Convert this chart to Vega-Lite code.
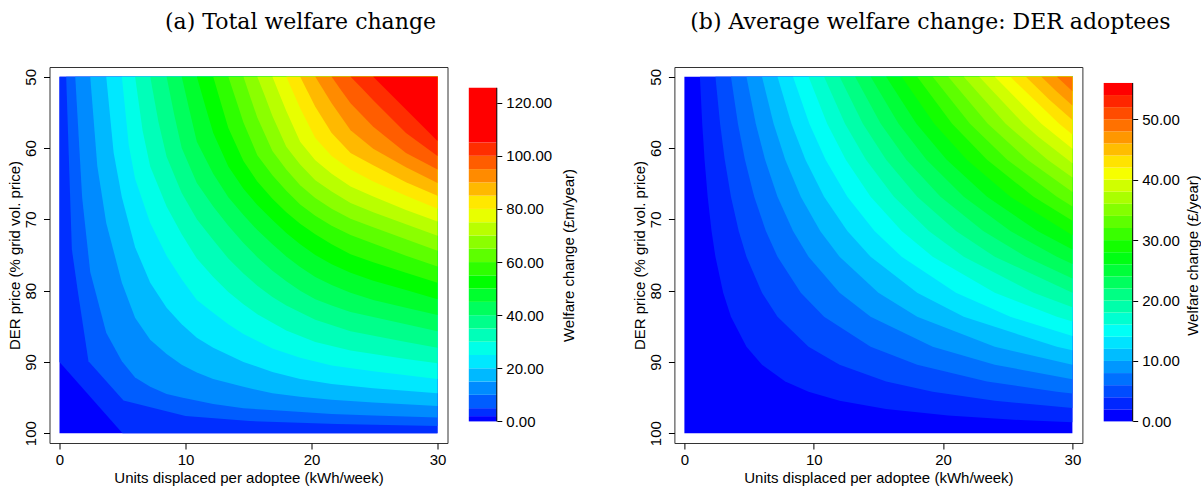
{
"$schema":"https://vega.github.io/schema/vega-lite/v6.json",
"padding":{"left":6.5,"top":10,"right":0,"bottom":0},
"config":{"font":"Liberation Sans","view":{"stroke":null},
"axis":{"labelFont":"Liberation Sans","labelFontSize":15,"labelColor":"black","titleFont":"Liberation Sans","titleFontSize":15,"titleFontWeight":"normal","titleColor":"black","tickColor":"black","domainColor":"black","grid":false},
"title":{"font":"DejaVu Serif","fontSize":22,"fontWeight":"normal","color":"black"}},
"datasets":{
"ca":[
{"ka":0,"x":0,"y":100},{"ka":0,"x":30,"y":100},
{"ka":1,"x":0,"y":90},{"ka":1,"x":5,"y":100},{"ka":1,"x":30,"y":100},
{"ka":2,"x":0.53,"y":50},{"ka":2,"x":0.98,"y":74.2},{"ka":2,"x":1.43,"y":79.8},{"ka":2,"x":2.3,"y":89.9},{"ka":2,"x":5.08,"y":95.4},{"ka":2,"x":10,"y":97.6},{"ka":2,"x":15.1,"y":98.3},{"ka":2,"x":22,"y":98.7},{"ka":2,"x":30,"y":99.0},
{"ka":3,"x":1.25,"y":50},{"ka":3,"x":1.8,"y":67.0},{"ka":3,"x":2.44,"y":77.4},{"ka":3,"x":3.71,"y":85.9},{"ka":3,"x":4.95,"y":89.9},{"ka":3,"x":6.0,"y":92.2},{"ka":3,"x":7.2,"y":93.5},{"ka":3,"x":8.5,"y":94.5},{"ka":3,"x":9.7,"y":95.0},{"ka":3,"x":12.2,"y":95.9},{"ka":3,"x":14.6,"y":96.5},{"ka":3,"x":18.0,"y":96.9},{"ka":3,"x":21.6,"y":97.3},{"ka":3,"x":24.9,"y":97.5},{"ka":3,"x":30,"y":97.8},
{"ka":4,"x":2.44,"y":50},{"ka":4,"x":3.0,"y":62.5},{"ka":4,"x":3.71,"y":70.5},{"ka":4,"x":4.95,"y":78.9},{"ka":4,"x":6.0,"y":83.8},{"ka":4,"x":7.2,"y":86.9},{"ka":4,"x":8.5,"y":88.9},{"ka":4,"x":9.7,"y":90.4},{"ka":4,"x":10.9,"y":91.5},{"ka":4,"x":12.2,"y":92.4},{"ka":4,"x":14.6,"y":93.5},{"ka":4,"x":16.9,"y":94.4},{"ka":4,"x":19.1,"y":94.9},{"ka":4,"x":21.6,"y":95.3},{"ka":4,"x":24.9,"y":95.7},{"ka":4,"x":30,"y":96.2},
{"ka":5,"x":3.71,"y":50},{"ka":5,"x":4.3,"y":60.7},{"ka":5,"x":4.95,"y":66.9},{"ka":5,"x":6.0,"y":73.9},{"ka":5,"x":7.2,"y":78.9},{"ka":5,"x":8.5,"y":82.4},{"ka":5,"x":9.7,"y":84.7},{"ka":5,"x":10.9,"y":86.6},{"ka":5,"x":12.2,"y":88.0},{"ka":5,"x":14.6,"y":90.0},{"ka":5,"x":16.9,"y":91.4},{"ka":5,"x":19.1,"y":92.4},{"ka":5,"x":21.6,"y":93.1},{"ka":5,"x":24.9,"y":93.7},{"ka":5,"x":30,"y":94.4},
{"ka":6,"x":4.95,"y":50},{"ka":6,"x":5.5,"y":59.6},{"ka":6,"x":6.0,"y":64.3},{"ka":6,"x":7.2,"y":70.5},{"ka":6,"x":8.5,"y":75.1},{"ka":6,"x":9.7,"y":78.4},{"ka":6,"x":10.9,"y":81.3},{"ka":6,"x":12.2,"y":83.1},{"ka":6,"x":13.4,"y":84.7},{"ka":6,"x":14.6,"y":86.1},{"ka":6,"x":16.9,"y":88.1},{"ka":6,"x":19.1,"y":89.4},{"ka":6,"x":21.6,"y":90.5},{"ka":6,"x":24.9,"y":91.3},{"ka":6,"x":30,"y":92.4},
{"ka":7,"x":6.0,"y":50},{"ka":7,"x":6.6,"y":57.6},{"ka":7,"x":7.2,"y":62.6},{"ka":7,"x":8.5,"y":68.2},{"ka":7,"x":9.7,"y":72.1},{"ka":7,"x":10.9,"y":75.5},{"ka":7,"x":12.2,"y":78.1},{"ka":7,"x":13.4,"y":80.2},{"ka":7,"x":14.6,"y":81.9},{"ka":7,"x":15.7,"y":83.3},{"ka":7,"x":16.9,"y":84.5},{"ka":7,"x":18.0,"y":85.6},{"ka":7,"x":20.3,"y":87.2},{"ka":7,"x":23.1,"y":88.4},{"ka":7,"x":27.5,"y":89.6},{"ka":7,"x":30,"y":90.2},
{"ka":8,"x":7.2,"y":50},{"ka":8,"x":7.85,"y":56.3},{"ka":8,"x":8.5,"y":61.2},{"ka":8,"x":9.7,"y":66.3},{"ka":8,"x":10.9,"y":70.0},{"ka":8,"x":12.2,"y":72.9},{"ka":8,"x":13.4,"y":75.5},{"ka":8,"x":14.6,"y":77.6},{"ka":8,"x":15.7,"y":79.3},{"ka":8,"x":16.9,"y":80.9},{"ka":8,"x":18.0,"y":82.1},{"ka":8,"x":20.3,"y":84.1},{"ka":8,"x":23.1,"y":85.7},{"ka":8,"x":27.5,"y":87.2},{"ka":8,"x":30,"y":88.0},
{"ka":9,"x":8.5,"y":50},{"ka":9,"x":9.1,"y":55.3},{"ka":9,"x":9.7,"y":60.0},{"ka":9,"x":10.9,"y":64.9},{"ka":9,"x":12.2,"y":68.2},{"ka":9,"x":13.4,"y":70.9},{"ka":9,"x":14.6,"y":73.3},{"ka":9,"x":15.7,"y":75.3},{"ka":9,"x":16.9,"y":77.2},{"ka":9,"x":18.0,"y":78.7},{"ka":9,"x":19.1,"y":80.0},{"ka":9,"x":20.3,"y":81.2},{"ka":9,"x":21.6,"y":82.1},{"ka":9,"x":23.1,"y":83.0},{"ka":9,"x":24.9,"y":83.7},{"ka":9,"x":27.5,"y":84.7},{"ka":9,"x":30,"y":85.7},
{"ka":10,"x":9.7,"y":50},{"ka":10,"x":10.3,"y":54.6},{"ka":10,"x":10.9,"y":59.1},{"ka":10,"x":12.2,"y":63.6},{"ka":10,"x":13.4,"y":66.9},{"ka":10,"x":14.6,"y":69.4},{"ka":10,"x":15.7,"y":71.5},{"ka":10,"x":16.9,"y":73.5},{"ka":10,"x":18.0,"y":75.2},{"ka":10,"x":19.1,"y":76.7},{"ka":10,"x":20.3,"y":78.1},{"ka":10,"x":21.6,"y":79.2},{"ka":10,"x":23.1,"y":80.3},{"ka":10,"x":24.9,"y":81.3},{"ka":10,"x":27.5,"y":82.4},{"ka":10,"x":30,"y":83.4},
{"ka":11,"x":10.9,"y":50},{"ka":11,"x":11.55,"y":54.0},{"ka":11,"x":12.2,"y":57.9},{"ka":11,"x":13.4,"y":62.6},{"ka":11,"x":14.6,"y":65.7},{"ka":11,"x":15.7,"y":68.0},{"ka":11,"x":16.9,"y":70.1},{"ka":11,"x":18.0,"y":71.9},{"ka":11,"x":19.1,"y":73.5},{"ka":11,"x":20.3,"y":75.0},{"ka":11,"x":21.6,"y":76.3},{"ka":11,"x":23.1,"y":77.5},{"ka":11,"x":24.9,"y":78.6},{"ka":11,"x":27.5,"y":79.9},{"ka":11,"x":30,"y":81.2},
{"ka":12,"x":12.2,"y":50},{"ka":12,"x":12.8,"y":53.6},{"ka":12,"x":13.4,"y":57.2},{"ka":12,"x":14.6,"y":61.8},{"ka":12,"x":15.7,"y":64.7},{"ka":12,"x":16.9,"y":67.1},{"ka":12,"x":18.0,"y":69.0},{"ka":12,"x":19.1,"y":70.6},{"ka":12,"x":20.3,"y":72.1},{"ka":12,"x":21.6,"y":73.5},{"ka":12,"x":23.1,"y":74.9},{"ka":12,"x":24.9,"y":76.0},{"ka":12,"x":27.5,"y":77.5},{"ka":12,"x":30,"y":78.9},
{"ka":13,"x":13.4,"y":50},{"ka":13,"x":14.0,"y":53.2},{"ka":13,"x":14.6,"y":56.4},{"ka":13,"x":15.7,"y":61.0},{"ka":13,"x":16.9,"y":63.8},{"ka":13,"x":18.0,"y":66.0},{"ka":13,"x":19.1,"y":67.9},{"ka":13,"x":20.3,"y":69.5},{"ka":13,"x":21.6,"y":70.9},{"ka":13,"x":23.1,"y":72.2},{"ka":13,"x":24.9,"y":73.4},{"ka":13,"x":27.5,"y":75.1},{"ka":13,"x":30,"y":76.6},
{"ka":14,"x":14.6,"y":50},{"ka":14,"x":15.15,"y":52.9},{"ka":14,"x":15.7,"y":55.7},{"ka":14,"x":16.9,"y":60.4},{"ka":14,"x":18.0,"y":63.0},{"ka":14,"x":19.1,"y":65.2},{"ka":14,"x":20.3,"y":67.0},{"ka":14,"x":21.6,"y":68.5},{"ka":14,"x":23.1,"y":69.9},{"ka":14,"x":24.9,"y":71.1},{"ka":14,"x":27.5,"y":72.8},{"ka":14,"x":30,"y":74.4},
{"ka":15,"x":15.7,"y":50},{"ka":15,"x":16.3,"y":52.7},{"ka":15,"x":16.9,"y":55.5},{"ka":15,"x":18.0,"y":59.8},{"ka":15,"x":19.1,"y":62.3},{"ka":15,"x":20.3,"y":64.5},{"ka":15,"x":21.6,"y":66.1},{"ka":15,"x":23.1,"y":67.7},{"ka":15,"x":24.9,"y":69.0},{"ka":15,"x":27.5,"y":70.7},{"ka":15,"x":30,"y":72.3},
{"ka":16,"x":16.9,"y":50},{"ka":16,"x":17.45,"y":52.4},{"ka":16,"x":18.0,"y":54.8},{"ka":16,"x":19.1,"y":59.1},{"ka":16,"x":20.3,"y":61.7},{"ka":16,"x":21.6,"y":63.6},{"ka":16,"x":23.1,"y":65.4},{"ka":16,"x":24.9,"y":66.8},{"ka":16,"x":27.5,"y":68.7},{"ka":16,"x":30,"y":70.3},
{"ka":17,"x":18.0,"y":50},{"ka":17,"x":18.55,"y":52.2},{"ka":17,"x":19.1,"y":54.4},{"ka":17,"x":20.3,"y":58.6},{"ka":17,"x":21.6,"y":61.1},{"ka":17,"x":23.1,"y":63.0},{"ka":17,"x":24.9,"y":64.7},{"ka":17,"x":27.5,"y":66.7},{"ka":17,"x":30,"y":68.5},
{"ka":18,"x":19.1,"y":50},{"ka":18,"x":19.7,"y":52.1},{"ka":18,"x":20.3,"y":54.2},{"ka":18,"x":21.6,"y":57.9},{"ka":18,"x":23.1,"y":60.7},{"ka":18,"x":24.9,"y":62.4},{"ka":18,"x":27.5,"y":64.8},{"ka":18,"x":30,"y":66.7},
{"ka":19,"x":20.3,"y":50},{"ka":19,"x":21.0,"y":52.0},{"ka":19,"x":21.6,"y":53.7},{"ka":19,"x":23.1,"y":57.5},{"ka":19,"x":24.9,"y":60.1},{"ka":19,"x":27.5,"y":62.7},{"ka":19,"x":30,"y":64.9},
{"ka":20,"x":21.6,"y":50},{"ka":20,"x":22.35,"y":51.9},{"ka":20,"x":23.1,"y":53.7},{"ka":20,"x":24.9,"y":57.0},{"ka":20,"x":27.5,"y":60.7},{"ka":20,"x":30,"y":63.0},
{"ka":21,"x":23.1,"y":50},{"ka":21,"x":24.0,"y":51.6},{"ka":21,"x":24.9,"y":53.3},{"ka":21,"x":27.5,"y":57.9},{"ka":21,"x":30,"y":61.1},
{"ka":22,"x":24.9,"y":50},{"ka":22,"x":27.5,"y":54.6},{"ka":22,"x":30,"y":59.0}
],
"cb":[
{"kb":0,"x":0,"y":100},{"kb":0,"x":30,"y":100},
{"kb":1,"x":1.2,"y":50},{"kb":1,"x":1.38,"y":56.59},{"kb":1,"x":1.56,"y":61.65},{"kb":1,"x":1.8,"y":66.83},{"kb":1,"x":2.1,"y":71.64},{"kb":1,"x":2.4,"y":75.25},{"kb":1,"x":3,"y":80.3},{"kb":1,"x":3.6,"y":83.67},{"kb":1,"x":4.8,"y":87.88},{"kb":1,"x":6,"y":90.4},{"kb":1,"x":7.8,"y":92.73},{"kb":1,"x":9.6,"y":94.19},{"kb":1,"x":12,"y":95.45},{"kb":1,"x":15.6,"y":96.62},{"kb":1,"x":20.4,"y":97.53},{"kb":1,"x":26.4,"y":98.2},{"kb":1,"x":30,"y":98.48},
{"kb":2,"x":2.4,"y":50},{"kb":2,"x":2.76,"y":56.59},{"kb":2,"x":3.12,"y":61.65},{"kb":2,"x":3.6,"y":66.83},{"kb":2,"x":4.2,"y":71.64},{"kb":2,"x":4.8,"y":75.25},{"kb":2,"x":6,"y":80.3},{"kb":2,"x":7.2,"y":83.67},{"kb":2,"x":9.6,"y":87.88},{"kb":2,"x":12,"y":90.4},{"kb":2,"x":15.6,"y":92.73},{"kb":2,"x":19.2,"y":94.19},{"kb":2,"x":24,"y":95.45},{"kb":2,"x":30,"y":96.46},
{"kb":3,"x":3.6,"y":50},{"kb":3,"x":4.14,"y":56.59},{"kb":3,"x":4.68,"y":61.65},{"kb":3,"x":5.4,"y":66.83},{"kb":3,"x":6.3,"y":71.64},{"kb":3,"x":7.2,"y":75.25},{"kb":3,"x":9,"y":80.3},{"kb":3,"x":10.8,"y":83.67},{"kb":3,"x":14.4,"y":87.88},{"kb":3,"x":18,"y":90.4},{"kb":3,"x":23.4,"y":92.73},{"kb":3,"x":28.8,"y":94.19},{"kb":3,"x":30,"y":94.44},
{"kb":4,"x":4.8,"y":50},{"kb":4,"x":5.52,"y":56.59},{"kb":4,"x":6.24,"y":61.65},{"kb":4,"x":7.2,"y":66.83},{"kb":4,"x":8.4,"y":71.64},{"kb":4,"x":9.6,"y":75.25},{"kb":4,"x":12,"y":80.3},{"kb":4,"x":14.4,"y":83.67},{"kb":4,"x":19.2,"y":87.88},{"kb":4,"x":24,"y":90.4},{"kb":4,"x":30,"y":92.42},
{"kb":5,"x":6,"y":50},{"kb":5,"x":6.9,"y":56.59},{"kb":5,"x":7.8,"y":61.65},{"kb":5,"x":9,"y":66.83},{"kb":5,"x":10.5,"y":71.64},{"kb":5,"x":12,"y":75.25},{"kb":5,"x":15,"y":80.3},{"kb":5,"x":18,"y":83.67},{"kb":5,"x":24,"y":87.88},{"kb":5,"x":30,"y":90.4},
{"kb":6,"x":7.2,"y":50},{"kb":6,"x":8.28,"y":56.59},{"kb":6,"x":9.36,"y":61.65},{"kb":6,"x":10.8,"y":66.83},{"kb":6,"x":12.6,"y":71.64},{"kb":6,"x":14.4,"y":75.25},{"kb":6,"x":18,"y":80.3},{"kb":6,"x":21.6,"y":83.67},{"kb":6,"x":28.8,"y":87.88},{"kb":6,"x":30,"y":88.38},
{"kb":7,"x":8.4,"y":50},{"kb":7,"x":9.66,"y":56.59},{"kb":7,"x":10.92,"y":61.65},{"kb":7,"x":12.6,"y":66.83},{"kb":7,"x":14.7,"y":71.64},{"kb":7,"x":16.8,"y":75.25},{"kb":7,"x":21,"y":80.3},{"kb":7,"x":25.2,"y":83.67},{"kb":7,"x":30,"y":86.36},
{"kb":8,"x":9.6,"y":50},{"kb":8,"x":11.04,"y":56.59},{"kb":8,"x":12.48,"y":61.65},{"kb":8,"x":14.4,"y":66.83},{"kb":8,"x":16.8,"y":71.64},{"kb":8,"x":19.2,"y":75.25},{"kb":8,"x":24,"y":80.3},{"kb":8,"x":28.8,"y":83.67},{"kb":8,"x":30,"y":84.34},
{"kb":9,"x":10.8,"y":50},{"kb":9,"x":12.42,"y":56.59},{"kb":9,"x":14.04,"y":61.65},{"kb":9,"x":16.2,"y":66.83},{"kb":9,"x":18.9,"y":71.64},{"kb":9,"x":21.6,"y":75.25},{"kb":9,"x":27,"y":80.3},{"kb":9,"x":30,"y":82.32},
{"kb":10,"x":12,"y":50},{"kb":10,"x":13.8,"y":56.59},{"kb":10,"x":15.6,"y":61.65},{"kb":10,"x":18,"y":66.83},{"kb":10,"x":21,"y":71.64},{"kb":10,"x":24,"y":75.25},{"kb":10,"x":30,"y":80.3},
{"kb":11,"x":13.2,"y":50},{"kb":11,"x":15.18,"y":56.59},{"kb":11,"x":17.16,"y":61.65},{"kb":11,"x":19.8,"y":66.83},{"kb":11,"x":23.1,"y":71.64},{"kb":11,"x":26.4,"y":75.25},{"kb":11,"x":30,"y":78.28},
{"kb":12,"x":14.4,"y":50},{"kb":12,"x":16.56,"y":56.59},{"kb":12,"x":18.72,"y":61.65},{"kb":12,"x":21.6,"y":66.83},{"kb":12,"x":25.2,"y":71.64},{"kb":12,"x":28.8,"y":75.25},{"kb":12,"x":30,"y":76.26},
{"kb":13,"x":15.6,"y":50},{"kb":13,"x":17.94,"y":56.59},{"kb":13,"x":20.28,"y":61.65},{"kb":13,"x":23.4,"y":66.83},{"kb":13,"x":27.3,"y":71.64},{"kb":13,"x":30,"y":74.24},
{"kb":14,"x":16.8,"y":50},{"kb":14,"x":19.32,"y":56.59},{"kb":14,"x":21.84,"y":61.65},{"kb":14,"x":25.2,"y":66.83},{"kb":14,"x":30,"y":72.22},
{"kb":15,"x":18,"y":50},{"kb":15,"x":20.7,"y":56.59},{"kb":15,"x":23.4,"y":61.65},{"kb":15,"x":27,"y":66.83},{"kb":15,"x":30,"y":70.2},
{"kb":16,"x":19.2,"y":50},{"kb":16,"x":22.08,"y":56.59},{"kb":16,"x":24.96,"y":61.65},{"kb":16,"x":28.8,"y":66.83},{"kb":16,"x":30,"y":68.18},
{"kb":17,"x":20.4,"y":50},{"kb":17,"x":23.46,"y":56.59},{"kb":17,"x":26.52,"y":61.65},{"kb":17,"x":30,"y":66.16},
{"kb":18,"x":21.6,"y":50},{"kb":18,"x":24.84,"y":56.59},{"kb":18,"x":28.08,"y":61.65},{"kb":18,"x":30,"y":64.14},
{"kb":19,"x":22.8,"y":50},{"kb":19,"x":26.22,"y":56.59},{"kb":19,"x":27.36,"y":58.42},{"kb":19,"x":30,"y":62.12},
{"kb":20,"x":24,"y":50},{"kb":20,"x":27.6,"y":56.59},{"kb":20,"x":30,"y":60.1},
{"kb":21,"x":25.2,"y":50},{"kb":21,"x":28.98,"y":56.59},{"kb":21,"x":30,"y":58.08},
{"kb":22,"x":26.4,"y":50},{"kb":22,"x":28.2,"y":53.2},{"kb":22,"x":30,"y":56.06},
{"kb":23,"x":27.6,"y":50},{"kb":23,"x":28.8,"y":52.1},{"kb":23,"x":30,"y":54.04},
{"kb":24,"x":28.8,"y":50},{"kb":24,"x":30,"y":52.02}
],
"la":[
{"ka":0,"lo":0,"hi":2},{"ka":1,"lo":2,"hi":5},{"ka":2,"lo":5,"hi":10},{"ka":3,"lo":10,"hi":15},{"ka":4,"lo":15,"hi":20},{"ka":5,"lo":20,"hi":25},{"ka":6,"lo":25,"hi":30},{"ka":7,"lo":30,"hi":35},{"ka":8,"lo":35,"hi":40},{"ka":9,"lo":40,"hi":45},{"ka":10,"lo":45,"hi":50},{"ka":11,"lo":50,"hi":55},{"ka":12,"lo":55,"hi":60},{"ka":13,"lo":60,"hi":65},{"ka":14,"lo":65,"hi":70},{"ka":15,"lo":70,"hi":75},{"ka":16,"lo":75,"hi":80},{"ka":17,"lo":80,"hi":85},{"ka":18,"lo":85,"hi":90},{"ka":19,"lo":90,"hi":95},{"ka":20,"lo":95,"hi":100},{"ka":21,"lo":100,"hi":105},{"ka":22,"lo":105,"hi":125.6}
],
"lb":[
{"kb":0,"lo":0,"hi":2},{"kb":1,"lo":2,"hi":4},{"kb":2,"lo":4,"hi":6},{"kb":3,"lo":6,"hi":8},{"kb":4,"lo":8,"hi":10},{"kb":5,"lo":10,"hi":12},{"kb":6,"lo":12,"hi":14},{"kb":7,"lo":14,"hi":16},{"kb":8,"lo":16,"hi":18},{"kb":9,"lo":18,"hi":20},{"kb":10,"lo":20,"hi":22},{"kb":11,"lo":22,"hi":24},{"kb":12,"lo":24,"hi":26},{"kb":13,"lo":26,"hi":28},{"kb":14,"lo":28,"hi":30},{"kb":15,"lo":30,"hi":32},{"kb":16,"lo":32,"hi":34},{"kb":17,"lo":34,"hi":36},{"kb":18,"lo":36,"hi":38},{"kb":19,"lo":38,"hi":40},{"kb":20,"lo":40,"hi":42},{"kb":21,"lo":42,"hi":44},{"kb":22,"lo":44,"hi":46},{"kb":23,"lo":46,"hi":48},{"kb":24,"lo":48,"hi":50},{"kb":25,"lo":50,"hi":52},{"kb":26,"lo":52,"hi":54},{"kb":27,"lo":54,"hi":56}
]
},
"resolve":{"scale":{"x":"independent","y":"independent","color":"independent"}},
"bounds":"flush",
"spacing":21.3,
"hconcat":[
 {"width":398,"height":376,"view":{"stroke":"#333","strokeWidth":1},
  "title":{"text":"(a) Total welfare change","anchor":"middle","frame":"group","dx":52,"offset":33},
  "data":{"name":"ca"},
  "mark":{"type":"area","interpolate":"linear","clip":true},
  "encoding":{
   "x":{"field":"x","type":"quantitative","scale":{"domain":[-0.794,30.794],"nice":false,"zero":false},"axis":{"values":[0,10,20,30],"title":"Units displaced per adoptee (kWh/week)","domain":false,"tickSize":6,"labelPadding":3,"titlePadding":3}},
   "y":{"field":"y","type":"quantitative","stack":null,"scale":{"domain":[48.625,101.375],"nice":false,"zero":false,"reverse":true},"axis":{"values":[50,60,70,80,90,100],"title":"DER price (% grid vol. price)","domain":false,"tickSize":6,"labelAngle":270,"labelAlign":"center","labelBaseline":"alphabetic","labelPadding":8,"titlePadding":1}},
   "y2":{"datum":50},
   "color":{"field":"ka","type":"ordinal","legend":null,"scale":{"domain":[0,1,2,3,4,5,6,7,8,9,10,11,12,13,14,15,16,17,18,19,20,21,22],"range":["#0000FF","#002EFF","#005DFF","#008BFF","#00B9FF","#00E8FF","#00FFE8","#00FFB9","#00FF8B","#00FF5D","#00FF2E","#00FF00","#2EFF00","#5DFF00","#8BFF00","#B9FF00","#E8FF00","#FFE800","#FFB900","#FF8B00","#FF5D00","#FF2E00","#FF0000"]}}
  }},
 {"width":28,"height":376,
  "layer":[
   {"data":{"name":"la"},"mark":{"type":"rect"},
    "encoding":{
     "x":{"datum":0,"type":"quantitative","scale":{"domain":[0,1],"nice":false,"zero":false},"axis":null},
     "x2":{"datum":1},
     "y":{"field":"lo","type":"quantitative","scale":{"domain":[-8.13,133.44],"nice":false,"zero":false},"axis":{"orient":"right","values":[0,10,20,30,40,50,60,70,80,90,100,110,120],"format":".2f","title":"Welfare change (£m/year)","titleAngle":270,"titleBaseline":"top","domain":false,"tickSize":5,"labelPadding":4,"titlePadding":10}},
     "y2":{"field":"hi"},
     "color":{"field":"ka","type":"ordinal","legend":null,"scale":{"domain":[0,1,2,3,4,5,6,7,8,9,10,11,12,13,14,15,16,17,18,19,20,21,22],"range":["#0000FF","#002EFF","#005DFF","#008BFF","#00B9FF","#00E8FF","#00FFE8","#00FFB9","#00FF8B","#00FF5D","#00FF2E","#00FF00","#2EFF00","#5DFF00","#8BFF00","#B9FF00","#E8FF00","#FFE800","#FFB900","#FF8B00","#FF5D00","#FF2E00","#FF0000"]}}
    }},
   {"data":{"values":[{}]},"mark":{"type":"rule","color":"black"},
    "encoding":{"x":{"datum":1,"type":"quantitative"},"y":{"datum":0,"type":"quantitative"},"y2":{"datum":125.6}}}
  ]},
 {"width":134.1,"height":376,"data":{"values":[]},"mark":{"type":"point","opacity":0},
  "encoding":{"x":{"field":"x","type":"quantitative","axis":null},"y":{"field":"y","type":"quantitative","axis":null}}},
 {"width":408,"height":376,"view":{"stroke":"#333","strokeWidth":1},
  "title":{"text":"(b) Average welfare change: DER adoptees","anchor":"middle","frame":"group","dx":52,"offset":33},
  "data":{"name":"cb"},
  "mark":{"type":"area","interpolate":"linear","clip":true},
  "encoding":{
   "x":{"field":"x","type":"quantitative","scale":{"domain":[-0.773,30.773],"nice":false,"zero":false},"axis":{"values":[0,10,20,30],"title":"Units displaced per adoptee (kWh/week)","domain":false,"tickSize":6,"labelPadding":3,"titlePadding":3}},
   "y":{"field":"y","type":"quantitative","stack":null,"scale":{"domain":[48.625,101.375],"nice":false,"zero":false,"reverse":true},"axis":{"values":[50,60,70,80,90,100],"title":"DER price (% grid vol. price)","domain":false,"tickSize":6,"labelAngle":270,"labelAlign":"center","labelBaseline":"alphabetic","labelPadding":8,"titlePadding":1}},
   "y2":{"datum":50},
   "color":{"field":"kb","type":"ordinal","legend":null,"scale":{"domain":[0,1,2,3,4,5,6,7,8,9,10,11,12,13,14,15,16,17,18,19,20,21,22,23,24,25,26,27],"range":["#0000FF","#0026FF","#004CFF","#0071FF","#0097FF","#00BDFF","#00E3FF","#00FFF6","#00FFD0","#00FFAA","#00FF84","#00FF5E","#00FF39","#00FF13","#13FF00","#39FF00","#5EFF00","#84FF00","#AAFF00","#D0FF00","#F6FF00","#FFE300","#FFBD00","#FF9700","#FF7100","#FF4C00","#FF2600","#FF0000"]}}
  }},
 {"width":29,"height":376,
  "layer":[
   {"data":{"name":"lb"},"mark":{"type":"rect"},
    "encoding":{
     "x":{"datum":0,"type":"quantitative","scale":{"domain":[0,1],"nice":false,"zero":false},"axis":null},
     "x2":{"datum":1},
     "y":{"field":"lo","type":"quantitative","scale":{"domain":[-3.574,58.64],"nice":false,"zero":false},"axis":{"orient":"right","values":[0,5,10,15,20,25,30,35,40,45,50,55],"format":".2f","title":"Welfare change (£/year)","titleAngle":270,"titleBaseline":"top","domain":false,"tickSize":5,"labelPadding":4,"titlePadding":6}},
     "y2":{"field":"hi"},
     "color":{"field":"kb","type":"ordinal","legend":null,"scale":{"domain":[0,1,2,3,4,5,6,7,8,9,10,11,12,13,14,15,16,17,18,19,20,21,22,23,24,25,26,27],"range":["#0000FF","#0026FF","#004CFF","#0071FF","#0097FF","#00BDFF","#00E3FF","#00FFF6","#00FFD0","#00FFAA","#00FF84","#00FF5E","#00FF39","#00FF13","#13FF00","#39FF00","#5EFF00","#84FF00","#AAFF00","#D0FF00","#F6FF00","#FFE300","#FFBD00","#FF9700","#FF7100","#FF4C00","#FF2600","#FF0000"]}}
    }},
   {"data":{"values":[{}]},"mark":{"type":"rule","color":"black"},
    "encoding":{"x":{"datum":1,"type":"quantitative"},"y":{"datum":0,"type":"quantitative"},"y2":{"datum":56}}}
  ]}
]
}
